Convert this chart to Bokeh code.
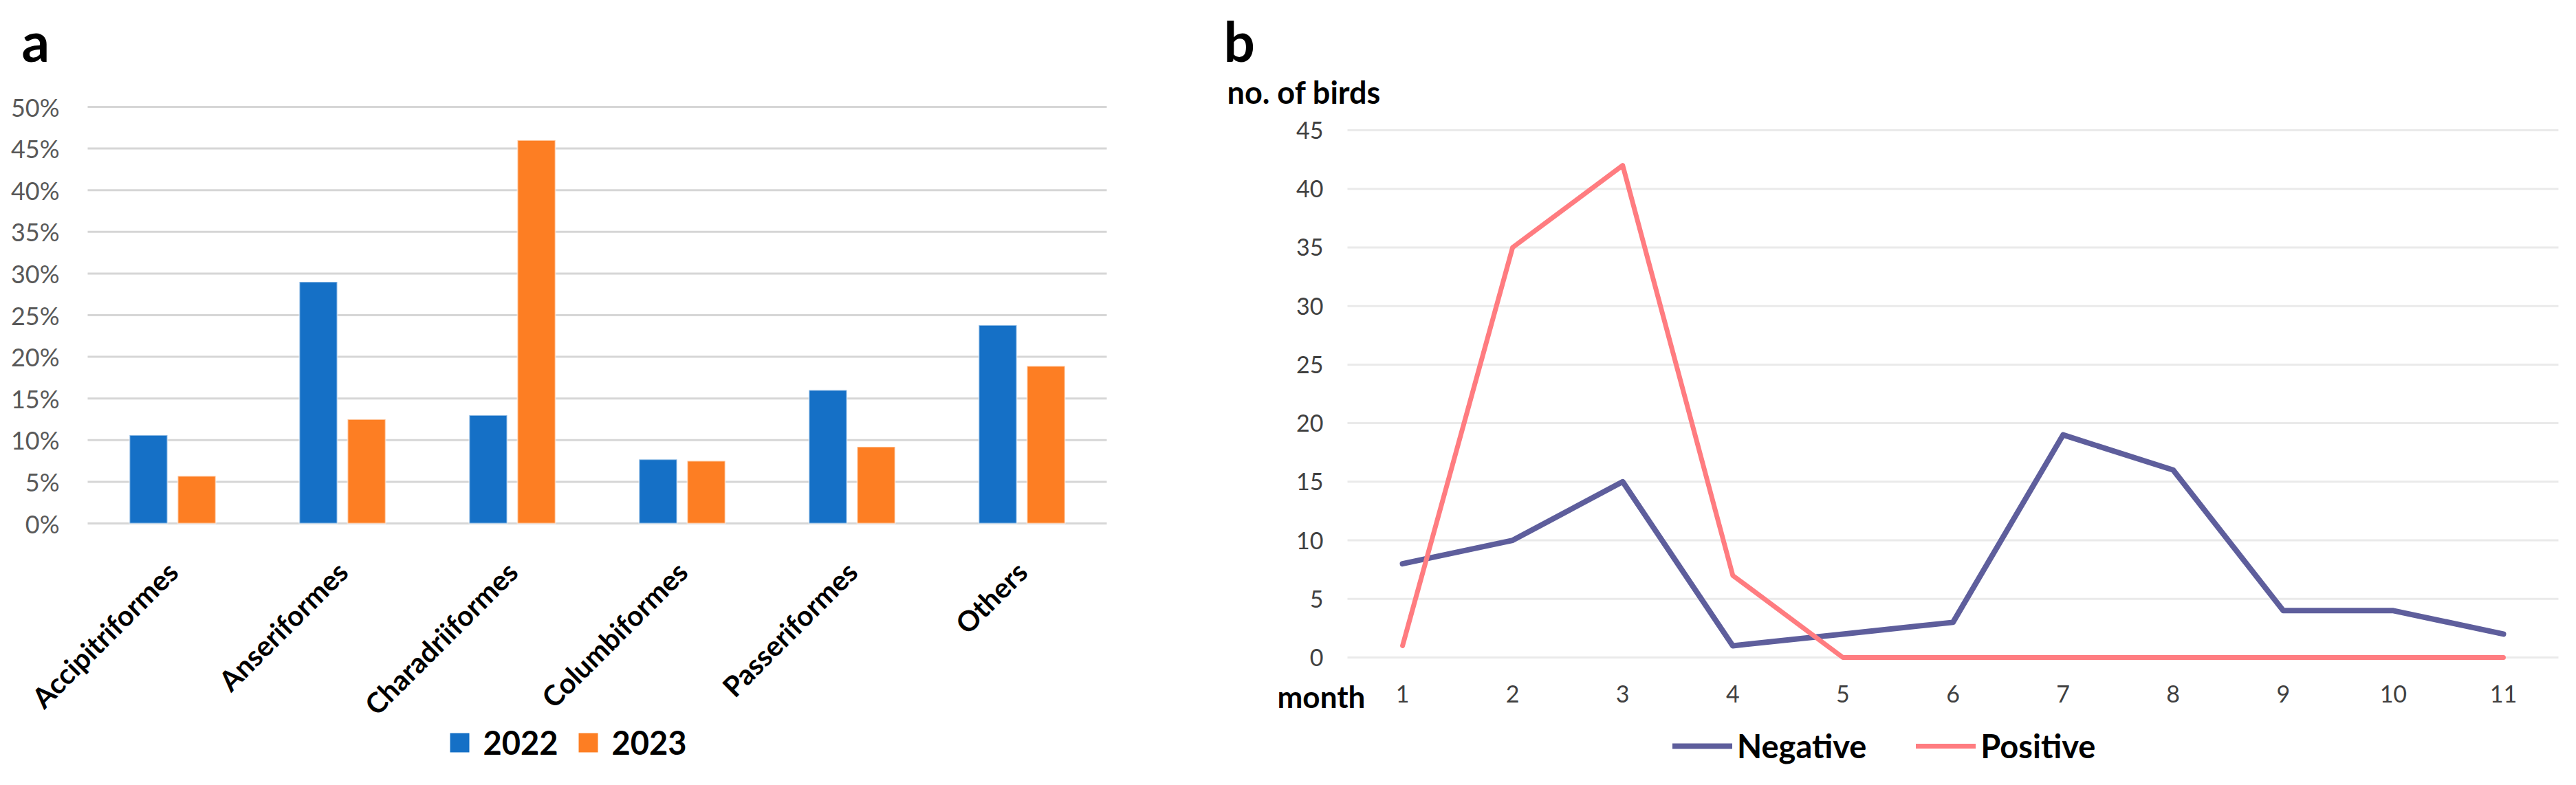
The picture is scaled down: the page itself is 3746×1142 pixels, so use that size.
import math
from bokeh.plotting import figure
from bokeh.models import (FactorRange, Range1d, FixedTicker, NumeralTickFormatter,
                          Legend, LegendItem, Label, ColumnDataSource)
from bokeh.transform import dodge
from bokeh.layouts import row
from bokeh.embed import file_html
from bokeh.resources import INLINE

# ---------------- data ----------------
orders = ["Accipitriformes", "Anseriformes", "Charadriiformes",
          "Columbiformes", "Passeriformes", "Others"]
share_2022 = [0.106, 0.290, 0.130, 0.077, 0.160, 0.238]
share_2023 = [0.057, 0.125, 0.460, 0.075, 0.092, 0.189]
pct_ticks = [0.0, 0.05, 0.10, 0.15, 0.20, 0.25, 0.30, 0.35, 0.40, 0.45, 0.50]

months = [1, 2, 3, 4, 5, 6, 7, 8, 9, 10, 11]
negative = [8, 10, 15, 1, 2, 3, 19, 16, 4, 4, 2]
positive = [1, 35, 42, 7, 0, 0, 0, 0, 0, 0, 0]
count_ticks = [0, 5, 10, 15, 20, 25, 30, 35, 40, 45]

FONT = "Lato"
BLUE = "#1570C6"
ORANGE = "#FD7E23"
NEG = "#5E5E9C"
POS = "#FF7C80"


def clean_axes(p):
    for ax in (p.xaxis, p.yaxis):
        ax.axis_line_color = None
        ax.major_tick_line_color = None
        ax.minor_tick_line_color = None
        ax.major_tick_out = 0
        ax.major_tick_in = 0
    p.xgrid.visible = False
    p.ygrid.visible = False
    p.outline_line_color = None
    p.background_fill_color = "white"
    p.border_fill_color = "white"


# ---------------- panel a ----------------
src_a = ColumnDataSource(dict(order=orders, y2022=share_2022, y2023=share_2023))
pa = figure(x_range=FactorRange(factors=orders, range_padding=0.4656,
                                range_padding_units="absolute"),
            y_range=Range1d(-0.294554, 0.627888),
            frame_width=1712, frame_height=1118,
            min_border_left=12, min_border_right=26,
            min_border_top=0, min_border_bottom=8,
            output_backend="svg", toolbar_location=None)
clean_axes(pa)

# horizontal gridlines spanning the category area
pa.segment(x0=0, x1=len(orders), y0="t", y1="t",
           source=ColumnDataSource(dict(t=pct_ticks)),
           line_color="#D6D6D6", line_width=3)

pa.vbar(x=dodge("order", -0.142, range=pa.x_range), top="y2022", width=0.223,
        source=src_a, fill_color=BLUE, line_color="white", line_alpha=0.5, line_width=2)
pa.vbar(x=dodge("order", 0.142, range=pa.x_range), top="y2023", width=0.223,
        source=src_a, fill_color=ORANGE, line_color="white", line_alpha=0.5, line_width=2)

# zero-size square markers on the bar tops: they only provide square legend swatches
k22 = pa.scatter(x=dodge("order", -0.142, range=pa.x_range), y="y2022", source=src_a,
                 marker="square", size=0, fill_color=BLUE, line_color=None)
k23 = pa.scatter(x=dodge("order", 0.142, range=pa.x_range), y="y2023", source=src_a,
                 marker="square", size=0, fill_color=ORANGE, line_color=None)

pa.yaxis.ticker = FixedTicker(ticks=pct_ticks)
pa.yaxis.formatter = NumeralTickFormatter(format="0%")
pa.yaxis.major_label_standoff = -74
pa.yaxis.major_label_text_font = FONT
pa.yaxis.major_label_text_font_size = "36px"
pa.yaxis.major_label_text_color = "#595959"
pa.xaxis.major_label_orientation = math.pi / 4
pa.xaxis.major_label_standoff = -294
pa.xaxis.major_label_text_font = FONT
pa.xaxis.major_label_text_font_style = "bold"
pa.xaxis.major_label_text_font_size = "41px"
pa.xaxis.major_label_text_color = "black"

leg_a = Legend(items=[LegendItem(label="2022", renderers=[k22]),
                      LegendItem(label="2023", renderers=[k23])],
               orientation="horizontal", location=(620.5, 3.5),
               glyph_width=70, glyph_height=70, label_height=70,
               label_standoff=0, spacing=8, padding=0, margin=0,
               label_text_font=FONT, label_text_font_style="bold",
               label_text_font_size="47px", label_text_color="black",
               border_line_color=None, background_fill_alpha=0)
pa.add_layout(leg_a)

pa.add_layout(Label(x=-0.3887, y=0.5797, text="a",
                    text_font=FONT, text_font_style="bold", text_font_size="80px",
                    text_color="black", text_baseline="alphabetic"))

# ---------------- panel b ----------------
src_b = ColumnDataSource(dict(month=months, neg=negative, pos=positive))
pb = figure(x_range=Range1d(-0.73055, 11.5125), y_range=Range1d(-9.5046, 56.0888),
            frame_width=1960, frame_height=1118,
            min_border_left=12, min_border_right=8,
            min_border_top=0, min_border_bottom=8,
            output_backend="svg", toolbar_location=None)
clean_axes(pb)

pb.segment(x0=months[0] - 0.5, x1=months[-1] + 0.5, y0="t", y1="t",
           source=ColumnDataSource(dict(t=count_ticks)),
           line_color="#EAEAEA", line_width=3)

rn = pb.line(x="month", y="neg", source=src_b, line_color=NEG, line_width=8,
             line_join="round", line_cap="round")
rp = pb.line(x="month", y="pos", source=src_b, line_color=POS, line_width=7,
             line_join="round", line_cap="round")

pb.yaxis.ticker = FixedTicker(ticks=count_ticks)
pb.xaxis.ticker = FixedTicker(ticks=months)
for ax in (pb.xaxis, pb.yaxis):
    ax.major_label_text_font = FONT
    ax.major_label_text_font_size = "34px"
    ax.major_label_text_color = "#404040"
pb.yaxis.major_label_standoff = -162
pb.xaxis.major_label_standoff = -122

leg_b = Legend(items=[LegendItem(label="Negative", renderers=[rn]),
                      LegendItem(label="Positive", renderers=[rp])],
               orientation="horizontal", location=(670, 3),
               glyph_width=87, glyph_height=60, label_height=60,
               label_standoff=7, spacing=72, padding=0, margin=0,
               label_text_font=FONT, label_text_font_style="bold",
               label_text_font_size="47px", label_text_color="black",
               border_line_color=None, background_fill_alpha=0)
pb.add_layout(leg_b)

pb.add_layout(Label(x=-0.6244, y=52.66, text="b",
                    text_font=FONT, text_font_style="bold", text_font_size="80px",
                    text_color="black", text_baseline="alphabetic"))
pb.add_layout(Label(x=-0.5931, y=48.28, text="no. of birds",
                    text_font=FONT, text_font_style="bold", text_font_size="45px",
                    text_color="black", text_baseline="alphabetic"))
pb.add_layout(Label(x=-0.1371, y=-3.29, text="month",
                    text_font=FONT, text_font_style="bold", text_font_size="44px",
                    text_color="black", text_baseline="alphabetic"))

layout = row(pa, pb)
open("out.html", "w").write(file_html(layout, INLINE))
